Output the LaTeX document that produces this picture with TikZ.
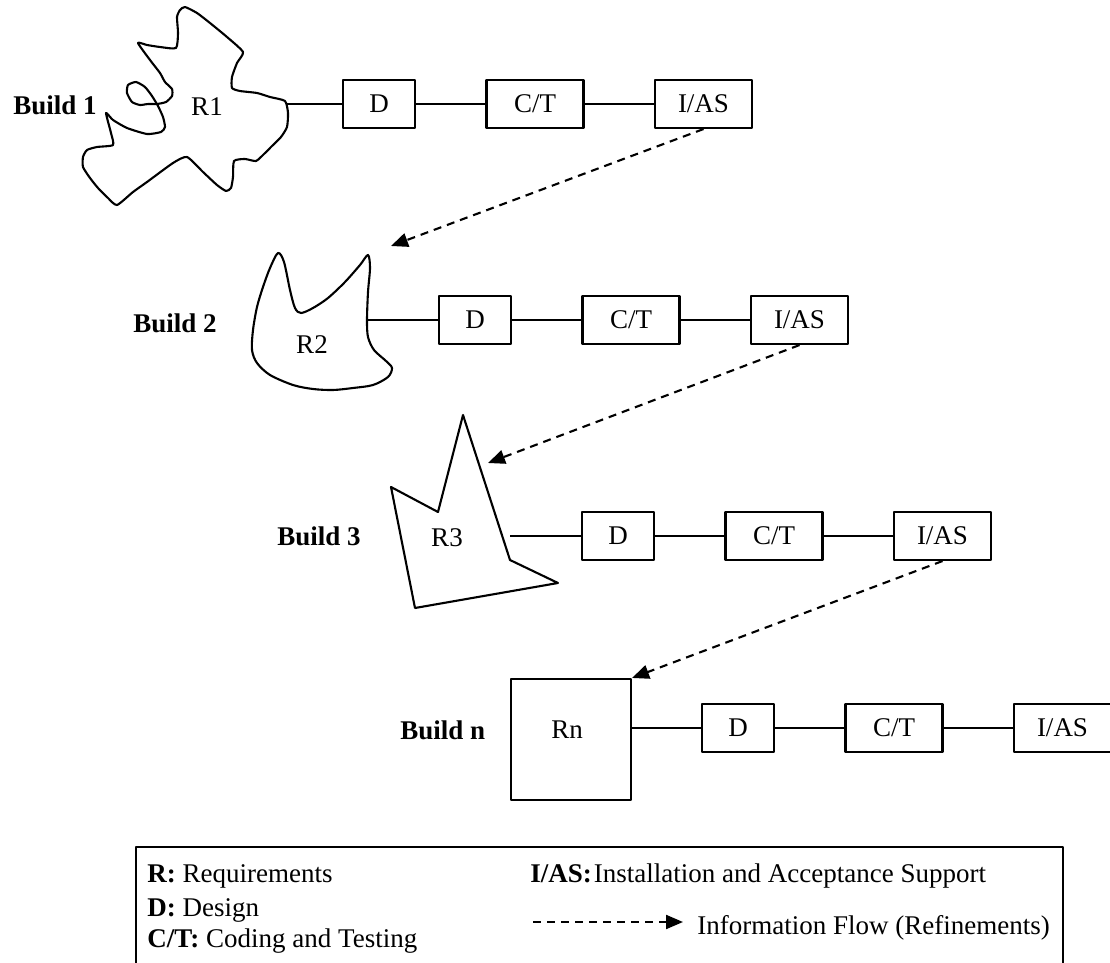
\documentclass[tikz,border=0pt]{standalone}
\usepackage{fontspec}
\setmainfont{Liberation Serif}
\usetikzlibrary{arrows.meta,calc}
\begin{document}
\begin{tikzpicture}[x=0.5pt,y=-0.5pt,
  font=\fontsize{13.5}{16}\selectfont,
  outline/.style={draw=black,line width=1.05pt,line join=round},
  stagebox/.style={outline,inner sep=0pt,minimum height=24pt},
  dbox/.style={stagebox,minimum width=36pt},
  wbox/.style={stagebox,minimum width=48.5pt},
  link/.style={draw=black,line width=1.05pt},
  flow/.style={draw=black,line width=1.05pt,dash pattern=on 4pt off 3pt,
    -{Triangle[length=8.5pt,width=7pt]}},
  buildlabel/.style={anchor=base west,inner sep=0pt,font=\fontsize{13.5}{16}\selectfont\bfseries},
  legendtext/.style={anchor=base west,inner sep=0pt}]

% page frame
\fill[white] (0,0) rectangle (1110,963);
\useasboundingbox (0,0) rectangle (1110,963);
\clip (0,0) rectangle (1110,963);

% ---------- Build 1 ----------
\node[buildlabel] (b1) at (13,115) {Build 1};
\draw[outline] plot[smooth cycle, tension=0.35] coordinates {
  (285,101) (288,113) (287,127) (281,137) (272,146) (264,154) (256,161)
  (245,159) (234,161) (233,177) (231,188) (226,191) (217,185) (203,172)
  (187,157) (173,163) (147,182) (133,192) (117,205) (108,198) (98,188)
  (90,178) (83,167) (83,157) (87,150) (97,147) (113,145) (111,133)
  (106,113) (113,120) (127,128) (147,134) (161,132) (165,127) (163,117)
  (158,106) (152,96) (145,87) (136,82) (128,85) (127,93) (132,102)
  (140,105) (148,104) (157,104) (166,102) (172,96) (172,89) (165,82)
  (160,73) (150,60) (138,43) (147,45) (160,47) (176,48) (178,33)
  (177,17) (180,10) (185,7) (197,13) (210,23) (227,37) (243,52)
  (237,63) (232,77) (232,88) (240,91) (257,93) (270,97)};
\node (r1) at (207,107) {R1};
\coordinate (c1) at (286,104);
\node[dbox] (d1) at (379,104) {D};
\node[wbox] (ct1) at (535,104) {C/T};
\node[wbox] (ias1) at (703.5,104) {I/AS};
\draw[link] (c1) -- (d1) -- (ct1) -- (ias1);

% ---------- Build 2 ----------
\node[buildlabel] (b2) at (133,332) {Build 2};
\draw[outline] plot[smooth cycle, tension=0.5] coordinates {
  (278,253) (284,262) (290,290) (295,308) (301,313) (313,308) (328,298)
  (345,282) (360,265) (368,255) (370,268) (368,292) (367,320) (368,337)
  (374,350) (386,361) (392,368) (388,377) (373,385) (353,388) (333,390)
  (313,389) (293,385) (270,375) (257,363) (252,350) (253,330) (257,307)
  (263,287) (270,268)};
\node (r2) at (312,345) {R2};
\coordinate (c2) at (367,320);
\node[dbox] (d2) at (475,320) {D};
\node[wbox] (ct2) at (631,320) {C/T};
\node[wbox] (ias2) at (799.5,320) {I/AS};
\draw[link] (c2) -- (d2) -- (ct2) -- (ias2);

% ---------- Build 3 ----------
\node[buildlabel] (b3) at (277,545) {Build 3};
\draw[outline] (463,415) -- (510,560) -- (558,583) -- (415,608)
  -- (391,487) -- (438,512) -- cycle;
\node (r3) at (447,538) {R3};
\coordinate (c3) at (510,536);
\node[dbox] (d3) at (618,536) {D};
\node[wbox] (ct3) at (774,536) {C/T};
\node[wbox] (ias3) at (942.5,536) {I/AS};
\draw[link] (c3) -- (d3) -- (ct3) -- (ias3);

% ---------- Build n ----------
\node[buildlabel] (bn) at (400,739) {Build n};
\node[outline,minimum width=60pt,minimum height=60.5pt,inner sep=0pt] (rn) at (571,739.5) {};
\node (rnlabel) at (567,730) {Rn};
\node[dbox] (dn) at (738,728) {D};
\node[wbox] (ctn) at (894,728) {C/T};
\node[wbox] (iasn) at (1062.5,728) {I/AS};
\draw[link] (rn.east |- dn.west) -- (dn) -- (ctn) -- (iasn);

% ---------- information flow between builds ----------
\coordinate (t2) at (391,246);
\coordinate (t3) at (488,463);
\draw[flow] (ias1.south) -- (t2);
\draw[flow] (ias2.south) -- (t3);
\draw[flow] (ias3.south) -- (rn.north east);

% ---------- legend ----------
\draw[outline] (136,975) -- (136,847) -- (1063,847) -- (1063,975);
\node[legendtext] (lr) at (147,882) {\textbf{R:} Requirements};
\node[legendtext] (ld) at (147,916) {\textbf{D:} Design};
\node[legendtext] (lct) at (147,947) {\textbf{C/T:} Coding and Testing};
\node[legendtext] (lias) at (530,882) {\textbf{I/AS:}\hspace{1pt}Installation and Acceptance Support};
\coordinate (fs) at (533,922);
\coordinate (fe) at (683,922);
\draw[flow] (fs) -- (fe);
\node[legendtext] (lflow) at (697,934) {Information Flow (Refinements)};
\end{tikzpicture}
\end{document}
